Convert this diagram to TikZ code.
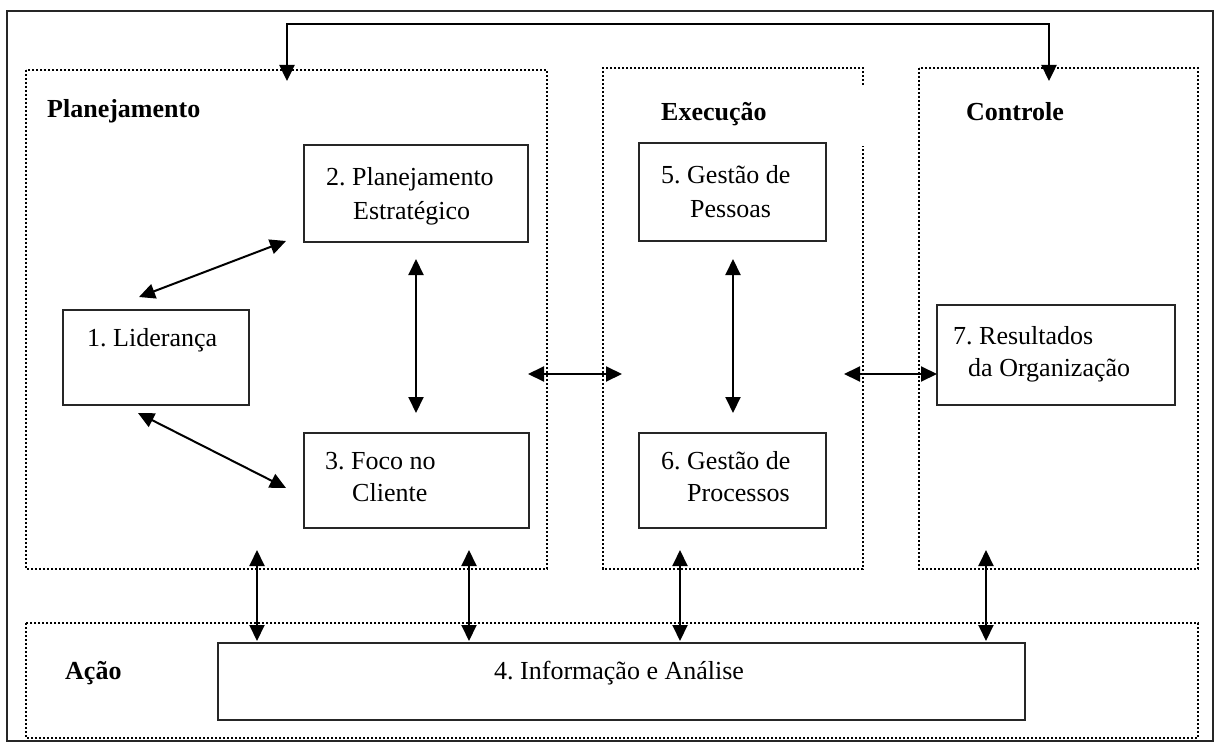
\documentclass[tikz,border=0pt]{standalone}
\usepackage{fontspec}
\setmainfont{Liberation Serif}
\usetikzlibrary{arrows.meta}
\frenchspacing
\begin{document}
\begin{tikzpicture}[x=1pt,y=-1pt,
  frame/.style={draw=black!85,line width=2pt},
  panel/.style={draw=black,line width=2.2pt,dash pattern=on 2.2pt off 1.8pt},
  box/.style={draw=black!85,line width=2pt,inner sep=0pt},
  link/.style={line width=2pt,{Triangle[length=16pt,width=15pt]}-{Triangle[length=16pt,width=15pt]}},
  lbl/.style={anchor=base west,inner sep=0pt,font=\fontsize{26}{30}\selectfont},
  head/.style={anchor=base west,inner sep=0pt,font=\fontsize{26}{30}\selectfont\bfseries},
]
\useasboundingbox (0,0) rectangle (1218,754);
\fill[white] (0,0) rectangle (1218,754);

% outer frame
\draw[frame] (7,11) rectangle (1213,741);

% dotted group panels
\draw[panel] (26,70) rectangle (547,569);                       % Planejamento
\draw[panel] (863,85) -- (863,68) -- (603,68) -- (603,569) -- (863,569) -- (863,146); % Execucao
\draw[panel] (919,68) rectangle (1198,569);                     % Controle
\draw[panel] (26,623) rectangle (1198,738);                     % Acao

% group headings
\node[head] (hPlan) at (47,118) {Planejamento};
\node[head] (hExec) at (661,121) {Execução};
\node[head] (hCtrl) at (966,121) {Controle};
\node[head] (hAcao) at (65,679) {Ação};

% criteria boxes
\node[box,minimum width=186pt,minimum height=95pt] (b1) at (156,357.5) {};
\node[box,minimum width=224pt,minimum height=97pt] (b2) at (416,193.5) {};
\node[box,minimum width=225pt,minimum height=95pt] (b3) at (416.5,480.5) {};
\node[box,minimum width=807pt,minimum height=77pt] (b4) at (621.5,681.5) {};
\node[box,minimum width=187pt,minimum height=98pt] (b5) at (732.5,192) {};
\node[box,minimum width=187pt,minimum height=95pt] (b6) at (732.5,480.5) {};
\node[box,minimum width=238pt,minimum height=100pt] (b7) at (1056,355) {};

% box texts
\node[lbl] (t1) at (87,346) {1. Liderança};
\node[lbl] (t2a) at (326,186) {2. Planejamento};
\node[lbl] (t2b) at (353,219) {Estratégico};
\node[lbl] (t3a) at (325,469) {3. Foco no};
\node[lbl] (t3b) at (352,501) {Cliente};
\node[lbl] (t4) at (494,679) {4. Informação e Análise};
\node[lbl] (t5a) at (661,184) {5. Gestão de};
\node[lbl] (t5b) at (690,218) {Pessoas};
\node[lbl] (t6a) at (661,469) {6. Gestão de};
\node[lbl] (t6b) at (687,501) {Processos};
\node[lbl] (t7a) at (953,344) {7. Resultados};
\node[lbl] (t7b) at (968,376) {da Organização};

% connector end points
\coordinate (pIn) at (287,81);
\coordinate (cIn) at (1049,81);
\coordinate (topRun) at (668,24);
\coordinate (l2a) at (139,297);  \coordinate (l2b) at (286,241);
\coordinate (l3a) at (138,413);  \coordinate (l3b) at (286,488);
\coordinate (v23a) at (416,259); \coordinate (v23b) at (416,413);
\coordinate (v56a) at (733,259); \coordinate (v56b) at (733,413);
\coordinate (peA) at (528,374);  \coordinate (peB) at (622,374);
\coordinate (ecA) at (844,374);  \coordinate (ecB) at (937,374);
\foreach \n/\x in {1/257,2/469,3/680,4/986}{
  \coordinate (up\n) at (\x,550);
  \coordinate (dn\n) at (\x,641);
}

% connectors
\draw[link,line width=2.4pt] (pIn) |- (topRun) -| (cIn);
\draw[link] (l2a) -- (l2b);
\draw[link] (l3a) -- (l3b);
\draw[link] (v23a) -- (v23b);
\draw[link] (v56a) -- (v56b);
\draw[link] (peA) -- (peB);
\draw[link] (ecA) -- (ecB);
\foreach \n in {1,2,3,4}{
  \draw[link] (up\n) -- (dn\n);
}
\end{tikzpicture}
\end{document}
